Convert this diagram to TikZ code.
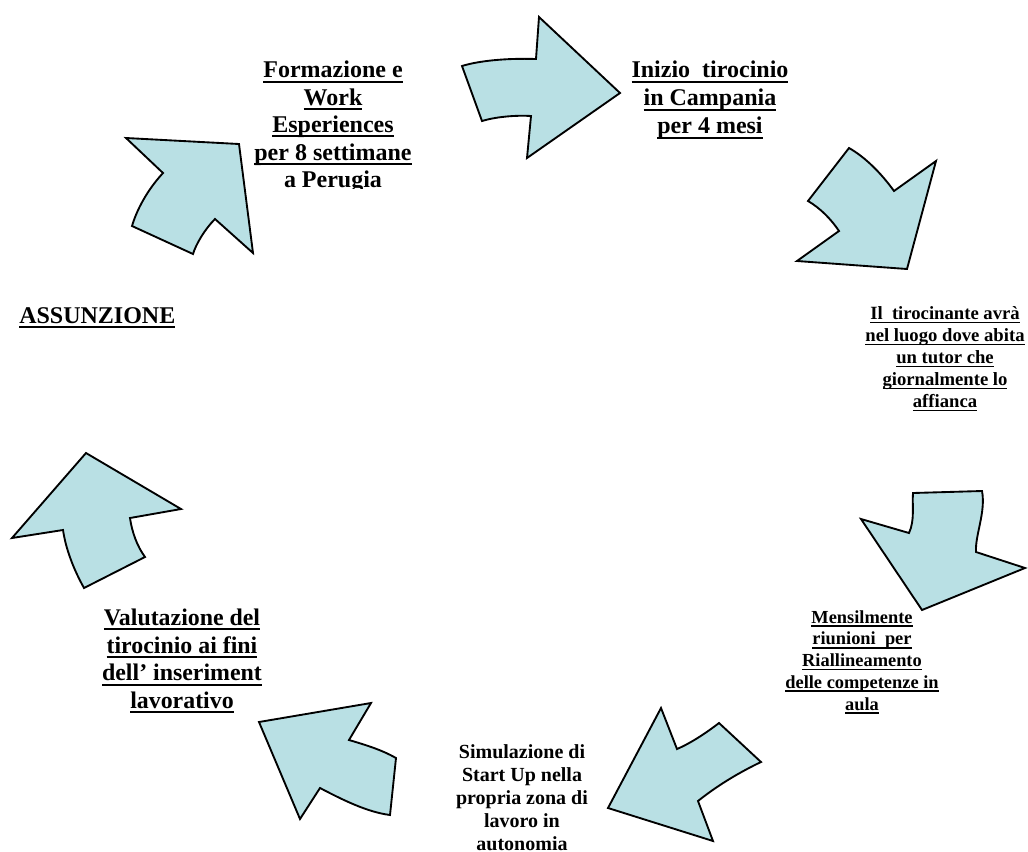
\documentclass[tikz,border=0pt]{standalone}
\usepackage{fontspec}
\setmainfont{Liberation Serif}
\definecolor{arrowfill}{RGB}{185,224,228}
\newcommand\ulin[1]{\setbox0\hbox{#1}\rlap{\rule[-0.2em]{\wd0}{0.085em}}\box0}
\tikzset{
  arr/.style={fill=arrowfill, draw=black, line width=1.4pt, line join=miter},
  lbl/.style={font=\bfseries, align=center, inner sep=0pt, text=black},
}
\begin{document}
\begin{tikzpicture}[x=0.75pt,y=-0.75pt]
\useasboundingbox (0,0) rectangle (1028,851);

% arrows
\draw[arr] (239,144) -- (253,253) -- (215,219) .. controls (205,229) and (196,244) .. (193,254) -- (132,226) .. controls (138,206) and (150,187) .. (163,173) -- (126,138) -- cycle;
\draw[arr] (462,66) .. controls (478,61) and (505,58) .. (536,59) -- (539,17) -- (620,93) -- (527,158) -- (531,116) .. controls (515,115) and (495,117) .. (482,121) -- cycle;
\draw[arr] (849,148) .. controls (865,157) and (881,173) .. (894,191) -- (936,161) -- (907,269) -- (797,261) -- (839,231) .. controls (831,219) and (820,208) .. (808,201) -- cycle;
\draw[arr] (913,493) -- (982,491) .. controls (986,512) and (975,535) .. (976,552) -- (1025,568) -- (922,610) -- (861,519) -- (909,533) .. controls (915,520) and (912,505) .. (913,493) -- cycle;
\draw[arr] (661,708) -- (677,749) .. controls (691,743) and (706,733) .. (719,723) -- (761,762) .. controls (740,772) and (718,785) .. (698,801) -- (713,841) -- (608,808) -- cycle;
\draw[arr] (259,722) -- (371,703) -- (349,740) .. controls (366,745) and (382,750) .. (396,758) -- (390,815) .. controls (367,812) and (343,800) .. (320,788) -- (300,819) -- cycle;
\draw[arr] (86,453) -- (181,509) -- (130,518) .. controls (132,532) and (137,546) .. (145,557) -- (84,588) .. controls (74,570) and (66,550) .. (63,530) -- (12,538) -- cycle;

% labels
\begin{scope}
\clip (200,30) rectangle (470,188);
\node[lbl, font=\bfseries\fontsize{18}{20.6}\selectfont] (formazione) at (333,127)
  {\ulin{Formazione e}\\ \ulin{Work}\\ \ulin{Esperiences}\\ \ulin{per 8 settimane}\\ \ulin{a Perugia}};
\end{scope}
\node[lbl, font=\bfseries\fontsize{18}{21}\selectfont] (inizio) at (710,100)
  {\ulin{Inizio\ \ tirocinio}\\ \ulin{in Campania}\\ \ulin{per 4 mesi}};
\node[lbl, font=\bfseries\fontsize{14}{16.5}\selectfont] (tutor) at (945,359)
  {\ulin{Il\ \ tirocinante avrà}\\ \ulin{nel luogo dove abita}\\ \ulin{un tutor che}\\ \ulin{giornalmente lo}\\ \ulin{affianca}};
\node[lbl, font=\bfseries\fontsize{13.8}{16.3}\selectfont] (mensile) at (862,662)
  {\ulin{Mensilmente}\\ \ulin{riunioni\ \ per}\\ \ulin{Riallineamento}\\ \ulin{delle competenze in}\\ \ulin{aula}};
\node[lbl, font=\bfseries\fontsize{15}{17.3}\selectfont] (simulazione) at (522,798)
  {Simulazione di\\ Start Up nella\\ propria zona di\\ lavoro in\\ autonomia};
\node[lbl, font=\bfseries\fontsize{17.9}{20.8}\selectfont] (valutazione) at (182,661)
  {\ulin{Valutazione del}\\ \ulin{tirocinio ai fini}\\ \ulin{dell’ inseriment}\\ \ulin{lavorativo}};
\node[lbl, font=\bfseries\fontsize{18}{20.6}\selectfont, anchor=base west] (assunzione) at (19,323)
  {\ulin{ASSUNZIONE}};
\end{tikzpicture}
\end{document}
